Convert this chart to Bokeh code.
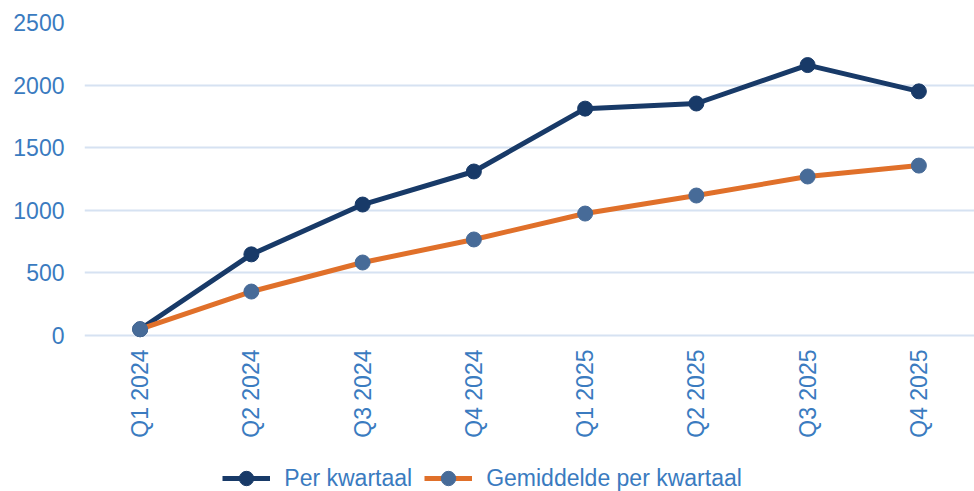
from bokeh.plotting import figure
from bokeh.models import FactorRange, Range1d, FixedTicker, Legend, LegendItem, CategoricalAxis
from bokeh.embed import file_html
from bokeh.resources import INLINE

quarters = ["Q1 2024", "Q2 2024", "Q3 2024", "Q4 2024", "Q1 2025", "Q2 2025", "Q3 2025", "Q4 2025"]
per_kwartaal = [50, 648, 1046, 1310, 1812, 1853, 2160, 1950]
gemiddelde = [50, 351, 583, 767, 974, 1118, 1270, 1357]
y_ticks = [0, 500, 1000, 1500, 2000, 2500]

TEXT = "#3A7BC0"
DARK = "#183A68"
ORANGE = "#E0702A"
MARK2 = "#476B98"
FONT = "Liberation Sans"

# frame spans 22..491 px; value 0 sits at 335 px, leaving room below for labels and legend
Y_MIN = -2500 * 156 / 313

p = figure(frame_width=890, frame_height=469, x_range=FactorRange(*quarters, range_padding=0),
           y_range=Range1d(Y_MIN, 2500), output_backend="svg", toolbar_location=None,
           x_axis_location=None,
           min_border_left=84, min_border_right=0, min_border_top=22, min_border_bottom=0,
           sizing_mode="fixed")
p.outline_line_color = None
p.xgrid.grid_line_color = None
p.ygrid.grid_line_color = "#D6E2F2"
p.ygrid.grid_line_width = 2
p.yaxis.ticker = FixedTicker(ticks=y_ticks)

xaxis = CategoricalAxis(fixed_location=0)
p.add_layout(xaxis, "below")

for ax in (xaxis, p.yaxis[0]):
    ax.axis_line_color = None
    ax.major_tick_line_color = None
    ax.minor_tick_line_color = None
    ax.major_tick_out = 0
    ax.major_tick_in = 0
    ax.major_label_text_color = TEXT
    ax.major_label_text_font = FONT
    ax.major_label_text_font_size = "23px"
p.yaxis.major_label_standoff = 20
xaxis.major_label_standoff = 14
xaxis.major_label_orientation = 1.5707963

l1 = p.line(quarters, per_kwartaal, line_color=DARK, line_width=5)
s1 = p.scatter(quarters, per_kwartaal, size=15, fill_color=DARK, line_color=DARK)
l2 = p.line(quarters, gemiddelde, line_color=ORANGE, line_width=5)
s2 = p.scatter(quarters, gemiddelde, size=15, fill_color=MARK2, line_color=MARK2)

legend = Legend(items=[LegendItem(label="Per kwartaal", renderers=[l1, s1]),
                       LegendItem(label="Gemiddelde per kwartaal", renderers=[l2, s2])],
                orientation="horizontal", location=(145, -5),
                label_text_font=FONT, label_text_font_size="23px", label_text_color=TEXT,
                glyph_width=48, glyph_height=36, label_standoff=14, spacing=12,
                border_line_color=None, background_fill_alpha=0, padding=0, margin=0)
p.add_layout(legend)

open("out.html", "w").write(file_html(p, INLINE))
